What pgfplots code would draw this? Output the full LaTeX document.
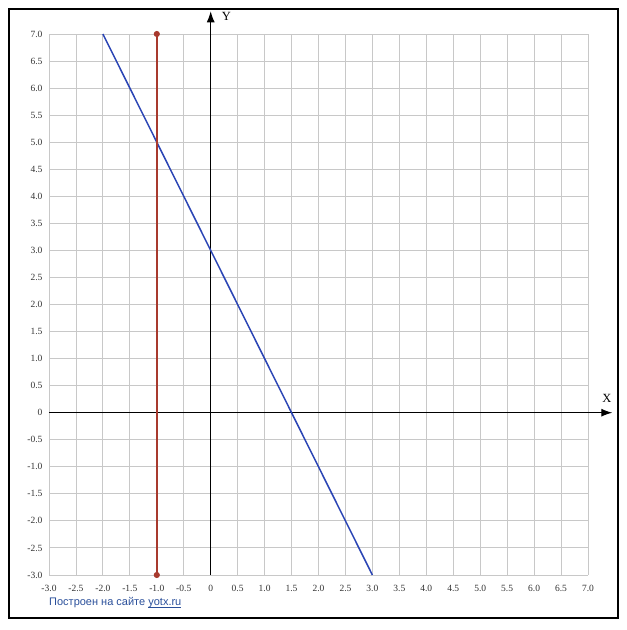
\documentclass[border=0pt]{standalone}
\usepackage{fontspec}
\setmainfont{Liberation Serif}
\newfontfamily\sitefont{Liberation Sans}
\usepackage{pgfplots}
\pgfplotsset{compat=1.18}
\usetikzlibrary{arrows.meta}
\definecolor{bluel}{HTML}{2B45B5}
\definecolor{redl}{HTML}{A83A2E}
\definecolor{gridc}{HTML}{C8C8C8}
\definecolor{sitec}{HTML}{2A4F9A}
\newlength\ulw
\newcommand\myul[1]{\settowidth\ulw{#1}\rlap{\rule[-1.9pt]{\ulw}{0.6pt}}#1}
\begin{document}
\begin{tikzpicture}[x=1pt,y=1pt]
\useasboundingbox (0,0) rectangle (627,630);
\draw[line width=1.3pt] (9,12) rectangle (618,621);
\begin{axis}[
  at={(49pt,55pt)}, anchor=south west,
  scale only axis, width=539pt, height=541pt,
  xmin=-3, xmax=7, ymin=-3, ymax=7,
  clip=false,
  axis line style={draw=none},
  major tick length=0pt,
  grid=major,
  major grid style={gridc, line width=0.9pt},
  xtick={-3,-2.5,...,7},
  ytick={-3,-2.5,...,7},
  xticklabels={-3.0,-2.5,-2.0,-1.5,-1.0,-0.5,0,0.5,1.0,1.5,2.0,2.5,3.0,3.5,4.0,4.5,5.0,5.5,6.0,6.5,7.0},
  yticklabels={-3.0,-2.5,-2.0,-1.5,-1.0,-0.5,0,0.5,1.0,1.5,2.0,2.5,3.0,3.5,4.0,4.5,5.0,5.5,6.0,6.5,7.0},
  xticklabel style={anchor=center, yshift=-13pt, font=\fontsize{9.5}{10}\selectfont, text=black!80},
  yticklabel style={anchor=east, xshift=-3pt, font=\fontsize{9.5}{10}\selectfont, text=black!80},
]
\draw[line width=1pt, -{Latex[length=11pt,width=8pt]}] (axis cs:-3,0) -- (axis cs:7.45,0);
\draw[line width=1pt, -{Latex[length=11pt,width=8pt]}] (axis cs:0,-3) -- (axis cs:0,7.42);
\node[font=\fontsize{12.5}{14}\selectfont] at (axis cs:7.35,0.27) {X};
\node[font=\fontsize{12.5}{14}\selectfont] at (axis cs:0.29,7.33) {Y};
\addplot[bluel, line width=1.5pt] coordinates {(-2,7) (3,-3)};
\addplot[redl, line width=2pt, mark=*, mark size=2pt, mark options={fill=redl, draw=redl}] coordinates {(-1,-3) (-1,7)};
\end{axis}
\node[anchor=west, font=\sitefont\fontsize{11}{13}\selectfont, text=sitec, inner sep=0pt] at (49,27) {Построен на сайте \myul{yotx.ru}};
\end{tikzpicture}
\end{document}
